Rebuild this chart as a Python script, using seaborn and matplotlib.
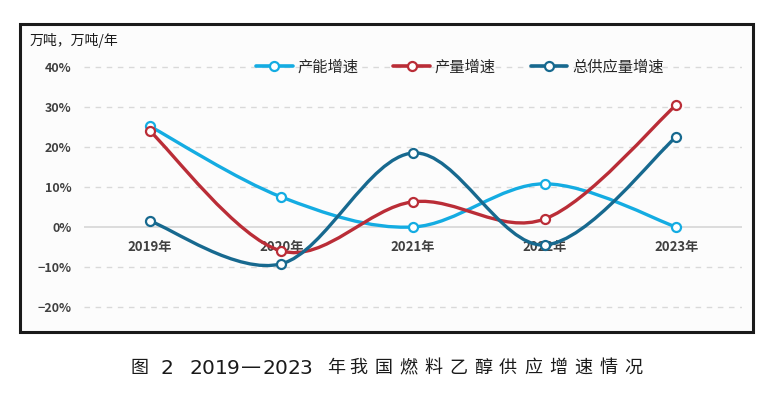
import numpy as np
import pandas as pd
import matplotlib
matplotlib.use("Agg")
import matplotlib.pyplot as plt
from matplotlib.path import Path
from matplotlib.patches import PathPatch, Rectangle
from matplotlib.lines import Line2D
from matplotlib.ticker import PercentFormatter
import seaborn as sns

# ---- data (growth rates, %) ----
years = ["2019年", "2020年", "2021年", "2022年", "2023年"]
capacity_growth = [25.2, 7.5, 0.0, 10.8, 0.0]      # 产能增速
output_growth = [24.0, -6.0, 6.3, 2.0, 30.5]       # 产量增速
supply_growth = [1.5, -9.2, 18.5, -4.5, 22.5]      # 总供应量增速
series_names = ["产能增速", "产量增速", "总供应量增速"]
series_colors = ["#14ACE2", "#BA2D37", "#17698F"]
y_ticks = [-20, -10, 0, 10, 20, 30, 40]

df = pd.DataFrame({
    "pos": list(range(len(years))) * 3,
    "value": capacity_growth + output_growth + supply_growth,
    "series": np.repeat(series_names, len(years)),
})

sns.set_theme(style="white")
plt.rcParams["font.family"] = ["Noto Sans CJK SC", "DejaVu Sans"]


def smooth_path(xs, ys):
    # Excel-style smoothed line: cubic bezier through the points
    pts = np.column_stack([xs, ys]).astype(float)
    ext = np.vstack([pts[0], pts, pts[-1]])
    verts = [pts[0]]
    codes = [Path.MOVETO]
    for i in range(len(pts) - 1):
        p0, p1, p2, p3 = ext[i], ext[i + 1], ext[i + 2], ext[i + 3]
        verts += [p1 + (p2 - p0) / 6, p2 - (p3 - p1) / 6, p2]
        codes += [Path.CURVE4] * 3
    return Path(verts, codes)


fig = plt.figure(figsize=(7.75, 3.99), dpi=100)
fig.patch.set_facecolor("white")

# outer frame of the chart
fig.patches.append(Rectangle((20 / 775, 1 - 332 / 399), 733 / 775, 308 / 399,
                             transform=fig.transFigure, facecolor="#fcfcfc",
                             edgecolor="#1a1a1a", linewidth=2.2, zorder=0))

ax = fig.add_axes([84 / 775, 1 - 327 / 399, 658 / 775, 280 / 399])
ax.set_zorder(2)
ax.set_facecolor("none")

for name, color in zip(series_names, series_colors):
    sub = df[df["series"] == name]
    ax.add_patch(PathPatch(smooth_path(sub["pos"], sub["value"]), facecolor="none",
                           edgecolor=color, linewidth=2.4, zorder=3, capstyle="round"))
    sns.lineplot(data=sub, x="pos", y="value", ax=ax, color=color, linestyle="",
                 marker="o", markersize=6.5, mfc="white", mec=color, mew=1.6,
                 zorder=4, legend=False)

ax.set_xlim(-0.5, 4.5)
ax.set_ylim(-25, 45)

# gridlines
for t in y_ticks:
    if t == 0:
        ax.axhline(0, color="#d6d6d6", lw=1.2, zorder=1)
    else:
        ax.axhline(t, color="#d9d9d9", lw=1.0, ls=(0, (4, 4)), zorder=1)

ax.set_yticks(y_ticks)
ax.yaxis.set_major_formatter(PercentFormatter(decimals=0))
ax.set_xticks(range(len(years)))
ax.set_xticklabels(years)
ax.spines["bottom"].set_position(("data", 0))
for s in ["left", "right", "top", "bottom"]:
    ax.spines[s].set_visible(False)
ax.tick_params(axis="y", length=0, pad=9, labelsize=9, labelcolor="#404040")
ax.tick_params(axis="x", length=0, pad=9, labelsize=9.5, labelcolor="#404040")
for lab in ax.get_yticklabels() + ax.get_xticklabels():
    lab.set_fontweight("bold")
ax.set_xlabel("")
ax.set_ylabel("")

handles = [Line2D([], [], color=c, lw=2.6, marker="o", markersize=6.5, mfc="white",
                  mec=c, mew=1.6) for c in series_colors]
leg = ax.legend(handles, series_names, loc="center", bbox_to_anchor=(0.571, 0.928),
                ncol=3, frameon=False, fontsize=11, handlelength=2.4,
                handletextpad=0.3, columnspacing=2.3)
for txt in leg.get_texts():
    txt.set_color("#262626")

fig.text(30 / 775, 1 - 40 / 399, "万吨，万吨/年", fontsize=10, color="#1a1a1a",
         va="center", ha="left")

# caption, spaced out character by character like the printed figure
cap_y = 1 - 368 / 399
cap_kw = dict(color="#1a1a1a", va="center", ha="center")
fig.text(140 / 775, cap_y, "图", fontsize=13, **cap_kw)
fig.text(167 / 775, cap_y, "2", family="DejaVu Sans", fontsize=14.5, **cap_kw)
digit_x = [196, 208.5, 221, 233.5, 251, 268.5, 281, 293.5, 306]
for x, ch in zip(digit_x, "2019—2023"):
    fig.text(x / 775, cap_y, ch, family="DejaVu Sans", fontsize=14.5, **cap_kw)
fig.text(336 / 775, cap_y, "年", fontsize=13, **cap_kw)
for k, ch in enumerate("我国燃料乙醇供应增速情况"):
    fig.text((358 + 25 * k) / 775, cap_y, ch, fontsize=13, **cap_kw)

fig.savefig("out.png", dpi=100)
